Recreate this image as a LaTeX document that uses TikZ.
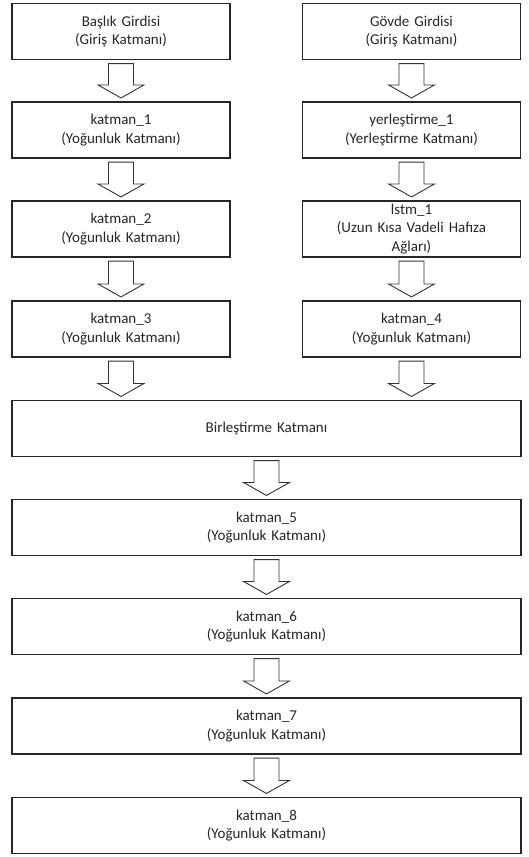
\documentclass[tikz,border=0pt]{standalone}
\usepackage{fontspec}
\setmainfont{Carlito}
\usetikzlibrary{calc}
\tikzset{
  layerbox/.style={draw=black!85, line width=1.1pt, fill=white, align=center,
    minimum height=56pt, inner sep=2pt, text=black!85,
    font=\fontsize{15}{18.5}\selectfont},
  halfbox/.style={layerbox, minimum width=218pt, text width=210pt},
  widebox/.style={layerbox, minimum width=509pt, text width=500pt},
  barrowstyle/.style={draw=black!80, line width=0.9pt, fill=white, line join=miter}
}
\newcommand{\blockarr}[2]{%
  \draw[barrowstyle] let \p1=($(#1.south)+(0,-3.5pt)$), \p2=($(#1.south |- #2.north)+(0,3.5pt)$) in
  (\x1-12.5pt,\y1) -- (\x1+12.5pt,\y1) -- (\x1+12.5pt,\y2+13pt) -- (\x1+23pt,\y2+13pt)
  -- (\x1,\y2) -- (\x1-23pt,\y2+13pt) -- (\x1-12.5pt,\y2+13pt) -- cycle;}
\begin{document}
\begin{tikzpicture}[x=1pt,y=-1pt]
\useasboundingbox (0,0) rectangle (528,857);
\node[halfbox] (bas) at (121,31.5) {Başlık Girdisi\\(Giriş Katmanı)};
\node[halfbox] (k1) at (121,130) {katman\_1\\(Yoğunluk Katmanı)};
\node[halfbox] (k2) at (121,229) {katman\_2\\(Yoğunluk Katmanı)};
\node[halfbox] (k3) at (121,329) {katman\_3\\(Yoğunluk Katmanı)};
\node[halfbox] (gov) at (411.5,31.5) {Gövde Girdisi\\(Giriş Katmanı)};
\node[halfbox] (yer) at (411.5,130) {yerleştirme\_1\\(Yerleştirme Katmanı)};
\node[halfbox] (lstm) at (411.5,229) {lstm\_1\\(Uzun Kısa Vadeli Hafıza\\Ağları)};
\node[halfbox] (k4) at (411.5,329) {katman\_4\\(Yoğunluk Katmanı)};
\node[widebox] (bir) at (266.5,428.5) {Birleştirme Katmanı};
\node[widebox] (k5) at (266.5,527.5) {katman\_5\\(Yoğunluk Katmanı)};
\node[widebox] (k6) at (266.5,626.5) {katman\_6\\(Yoğunluk Katmanı)};
\node[widebox] (k7) at (266.5,726) {katman\_7\\(Yoğunluk Katmanı)};
\node[widebox] (k8) at (266.5,825.5) {katman\_8\\(Yoğunluk Katmanı)};
\blockarr{bas}{k1}
\blockarr{k1}{k2}
\blockarr{k2}{k3}
\blockarr{k3}{bir}
\blockarr{gov}{yer}
\blockarr{yer}{lstm}
\blockarr{lstm}{k4}
\blockarr{k4}{bir}
\blockarr{bir}{k5}
\blockarr{k5}{k6}
\blockarr{k6}{k7}
\blockarr{k7}{k8}
\end{tikzpicture}
\end{document}
